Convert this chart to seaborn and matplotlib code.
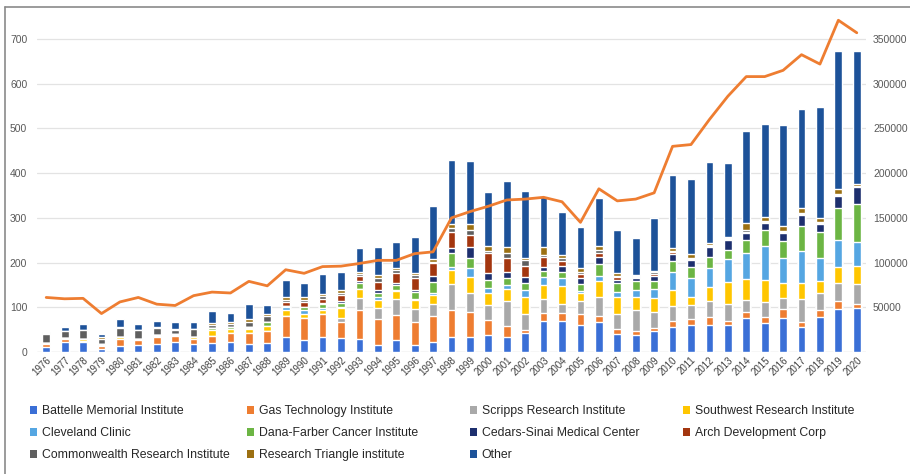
import matplotlib
matplotlib.use("Agg")
import matplotlib.pyplot as plt
from matplotlib.patches import Patch
from matplotlib.lines import Line2D
import numpy as np
import seaborn as sns

years = [str(y) for y in range(1976, 2021)]

battelle = [12, 23, 22, 7, 13, 15, 19, 23, 19, 21, 22, 19, 21, 34, 27, 33, 31, 28, 16, 27, 16, 23, 33, 34, 38,
            34, 42, 69, 69, 60, 66, 40, 37, 46, 57, 61, 61, 61, 76, 64, 76, 55, 78, 97, 98]
gas_tech = [5, 7, 3, 6, 15, 12, 15, 12, 11, 15, 21, 24, 25, 46, 50, 52, 37, 66, 57, 56, 52, 58, 61, 56, 34,
            25, 7, 19, 18, 25, 15, 12, 11, 7, 12, 13, 18, 8, 13, 15, 21, 12, 15, 16, 10]
scripps = [0, 0, 0, 0, 0, 0, 2, 0, 0, 0, 0, 0, 0, 0, 0, 0, 7, 26, 25, 35, 28, 27, 58, 41, 33,
           55, 35, 31, 21, 30, 41, 33, 46, 36, 35, 31, 34, 39, 28, 33, 24, 52, 40, 41, 43]
southwest = [4, 2, 4, 3, 5, 3, 2, 4, 4, 13, 8, 8, 12, 13, 9, 10, 23, 20, 18, 19, 21, 20, 32, 36, 28,
             26, 38, 30, 39, 16, 36, 39, 29, 32, 35, 18, 32, 49, 47, 48, 33, 35, 26, 36, 42]
cleveland = [0, 0, 0, 0, 0, 0, 0, 0, 0, 0, 0, 2, 0, 7, 9, 3, 3, 2, 6, 1, 2, 3, 7, 20, 10,
             9, 17, 18, 19, 5, 13, 10, 15, 19, 41, 43, 43, 52, 58, 78, 57, 71, 52, 60, 52]
dana_farber = [0, 0, 0, 1, 0, 0, 0, 1, 0, 4, 6, 4, 8, 3, 6, 9, 8, 13, 11, 12, 15, 25, 31, 23, 17,
               16, 16, 15, 13, 16, 26, 20, 20, 18, 23, 24, 25, 20, 28, 35, 38, 56, 58, 71, 85]
cedars = [0, 0, 0, 0, 0, 0, 0, 0, 0, 0, 0, 0, 0, 1, 0, 2, 4, 4, 6, 5, 5, 15, 10, 24, 16,
          13, 12, 9, 13, 14, 15, 8, 8, 13, 16, 15, 22, 22, 17, 16, 18, 25, 17, 28, 39]
arch = [0, 0, 0, 0, 0, 0, 0, 0, 0, 0, 0, 0, 0, 7, 10, 10, 15, 10, 18, 21, 26, 27, 36, 28, 45,
        33, 26, 21, 11, 9, 10, 6, 2, 4, 4, 3, 2, 2, 2, 1, 1, 2, 2, 2, 1]
commonwealth = [20, 16, 20, 13, 20, 19, 15, 9, 17, 7, 6, 11, 15, 6, 5, 6, 5, 6, 8, 8, 7, 3, 9, 10, 6,
                10, 12, 5, 8, 5, 6, 3, 2, 3, 3, 2, 2, 2, 3, 2, 2, 3, 3, 3, 1]
rti = [1, 0, 0, 3, 4, 1, 4, 3, 1, 4, 3, 5, 3, 5, 6, 5, 6, 5, 7, 5, 5, 6, 9, 15, 10,
       13, 6, 17, 5, 7, 10, 6, 2, 4, 6, 9, 4, 3, 16, 9, 12, 12, 9, 11, 4]
other = [2, 8, 13, 7, 17, 12, 12, 15, 14, 27, 21, 34, 21, 40, 32, 44, 41, 52, 62, 56, 80, 120, 143, 140, 120,
         149, 150, 114, 98, 92, 106, 96, 84, 118, 163, 168, 182, 164, 206, 210, 226, 221, 248, 308, 298]

applications = [61000, 59500, 60000, 43000, 56000, 61000, 53500, 52000, 63000, 67000, 66000, 79000, 74000,
                92000, 88000, 95500, 96000, 99000, 102500, 102500, 110000, 112000, 150000, 157000, 163000,
                170000, 171000, 173000, 168000, 145000, 182500, 169000, 171000, 178000, 230000, 232000,
                260000, 286000, 308000, 308000, 315000, 332500, 322000, 371000, 357000]

series_names = ["Battelle Memorial Institute", "Gas Technology Institute", "Scripps Research Institute",
                "Southwest Research Institute", "Cleveland Clinic", "Dana-Farber Cancer Institute",
                "Cedars-Sinai Medical Center", "Arch Development Corp", "Commonwealth Research Institute",
                "Research Triangle institute", "Other"]
series_values = [battelle, gas_tech, scripps, southwest, cleveland, dana_farber, cedars, arch,
                 commonwealth, rti, other]
colors = ["#3a6fd6", "#ee7d31", "#a9a9a9", "#ffc600", "#55a6e2", "#6cb544", "#1d2f6e", "#a3360f",
          "#5f5f5f", "#9c7012", "#1d5299"]

sns.set_theme(style="white")
plt.rcParams["font.family"] = ["Liberation Sans", "DejaVu Sans"]

W, H = 910, 474
fig = plt.figure(figsize=(W / 100, H / 100), dpi=100)
ax = fig.add_axes([37 / W, 1 - 352 / H, (866 - 37) / W, (352 - 14) / H])

cum = np.cumsum(np.array(series_values), axis=0)
for i in range(len(series_names) - 1, -1, -1):
    sns.barplot(x=years, y=cum[i], color=colors[i], width=0.42, saturation=1, ax=ax,
                errorbar=None, zorder=2)

ymax = 756
ax.set_ylim(0, ymax)
ax.set_xlim(-0.5, len(years) - 0.5)
ax.set_yticks(range(0, 701, 100))
ax.yaxis.grid(True, color="#e3e3e3", linewidth=0.9, zorder=0)
ax.set_axisbelow(True)
for s in ax.spines.values():
    s.set_visible(False)
ax.axhline(0, color="#d9d9d9", linewidth=0.9, zorder=1)
ax.set_xlabel("")
ax.set_ylabel("")
ax.tick_params(axis="y", labelsize=7.5, labelcolor="#595959", length=0, pad=7)
ax.tick_params(axis="x", labelsize=7, labelcolor="#404040", length=0, pad=2)
for lab in ax.get_xticklabels():
    lab.set_rotation(45)
    lab.set_ha("right")
    lab.set_rotation_mode("anchor")

ax2 = ax.twinx()
sns.lineplot(x=np.arange(len(years)), y=applications, ax=ax2, color="#ee7d31", linewidth=2.0, zorder=5)
ax2.set_ylim(0, ymax * 500)
ax2.set_yticks(range(50000, 350001, 50000))
ax2.set_yticklabels([str(v) for v in range(50000, 350001, 50000)])
ax2.tick_params(axis="y", labelsize=7.5, labelcolor="#595959", length=0, pad=5)
for s in ax2.spines.values():
    s.set_visible(False)
ax2.set_ylabel("")

# legend in four columns
cols = [[0, 4, 8], [1, 5, 9], [2, 6, 10], [3, 7]]
col_x = [30, 247, 470, 683]
for cx, idxs in zip(col_x, cols):
    handles = [Patch(facecolor=colors[i], edgecolor="none", label=series_names[i]) for i in idxs]
    fig.legend(handles=handles, loc="upper left", bbox_to_anchor=(cx / W, 1 - 405 / H),
               frameon=False, fontsize=8.8, handlelength=0.6, handleheight=0.6,
               handletextpad=0.35, borderpad=0, borderaxespad=0, labelspacing=0.82,
               labelcolor="#262626")

# outer border
fig.add_artist(Line2D([5 / W, 1], [1 - 7 / H, 1 - 7 / H], color="#8a8a8a", linewidth=1.2,
                      transform=fig.transFigure))
fig.add_artist(Line2D([5 / W, 5 / W], [0, 1 - 7 / H], color="#8a8a8a", linewidth=1.2,
                      transform=fig.transFigure))

fig.savefig("out.png", dpi=100)
